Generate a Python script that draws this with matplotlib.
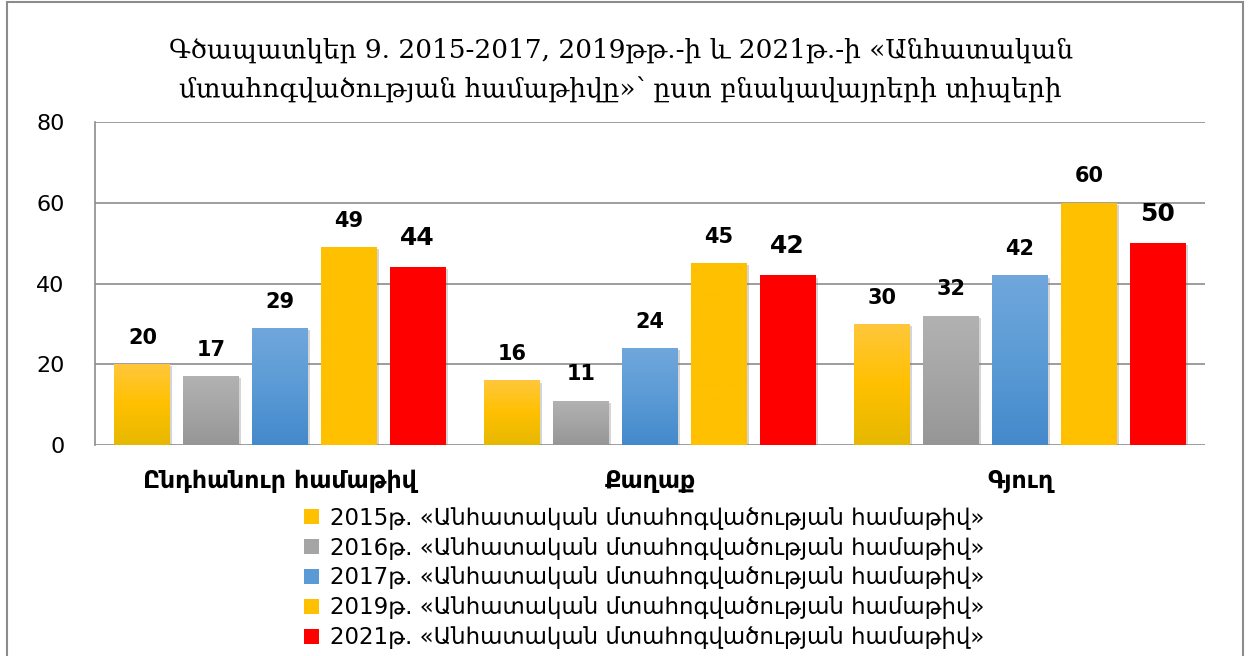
import matplotlib
matplotlib.use("Agg")
import matplotlib.pyplot as plt
import numpy as np
from matplotlib.colors import LinearSegmentedColormap
from matplotlib.patches import Rectangle, Patch
import matplotlib.patheffects as pe

plt.rcParams['font.family'] = ['DejaVu Sans']

# data
categories = ["Ընդհանուր համաթիվ", "Քաղաք", "Գյուղ"]
series_names = [
    "2015թ. «Անհատական մտահոգվածության համաթիվ»",
    "2016թ. «Անհատական մտահոգվածության համաթիվ»",
    "2017թ. «Անհատական մտահոգվածության համաթիվ»",
    "2019թ. «Անհատական մտահոգվածության համաթիվ»",
    "2021թ. «Անհատական մտահոգվածության համաթիվ»",
]
v2015 = [20, 16, 30]
v2016 = [17, 11, 32]
v2017 = [29, 24, 42]
v2019 = [49, 45, 60]
v2021 = [44, 42, 50]
values = [v2015, v2016, v2017, v2019, v2021]

# (top, middle, bottom) colours for the gradient fills
grads = [
    ("#FFC73C", "#FFC000", "#E6B800"),
    ("#B2B2B2", "#A5A5A5", "#969696"),
    ("#70A7DC", "#5B9BD5", "#4489CC"),
    ("#FFC000", "#FFC000", "#FFC000"),
    ("#FF0000", "#FF0000", "#FF0000"),
]
legend_colors = ["#FFC000", "#A5A5A5", "#5B9BD5", "#FFC000", "#FF0000"]

fig = plt.figure(figsize=(12.49, 6.56), dpi=100)
ax = fig.add_axes([0.0761, 0.3216, 0.8887, 0.4924])

x = np.arange(len(categories))
pitch = 0.186
width = 0.151
grad_img = np.linspace(0, 1, 256).reshape(-1, 1)

for i, (vals, g) in enumerate(zip(values, grads)):
    cmap = LinearSegmentedColormap.from_list(f"g{i}", [g[2], g[1], g[0]])
    offs = (i - 2) * pitch
    bars = ax.bar(x + offs, vals, width, color=g[1], zorder=3,
                  path_effects=[pe.SimplePatchShadow(offset=(1.5, -1.5), shadow_rgbFace="#777777", alpha=0.3),
                                pe.Normal()])
    for b, v in zip(bars, vals):
        bx, bw = b.get_x(), b.get_width()
        im = ax.imshow(grad_img, cmap=cmap, aspect="auto", origin="lower",
                       extent=[bx, bx + bw, 0, v], zorder=4)
        im.set_clip_path(b)
        big = i == 4
        ax.annotate(f"{v}", (bx + bw / 2, v), xytext=(0, 21 if big else 19),
                    textcoords="offset points", ha="center", va="center",
                    fontsize=18 if big else 15, fontweight="bold", zorder=5)

ax.set_xlim(-0.5, 2.5)
ax.set_ylim(0, 80)
ax.set_yticks([0, 20, 40, 60, 80])
ax.tick_params(axis="y", length=0, labelsize=16, pad=22)
ax.set_xticks(x)
ax.set_xticklabels(categories, fontsize=17, fontweight="bold")
ax.tick_params(axis="x", length=0, pad=17)
ax.grid(axis="y", color="#8c8c8c", linewidth=1.2, zorder=0)
for s in ["top", "right", "bottom"]:
    ax.spines[s].set_visible(False)
ax.spines["left"].set_color("#8c8c8c")
ax.spines["left"].set_linewidth(1.2)

fig.text(0.497, 0.893,
         "Գծապատկեր 9. 2015-2017, 2019թթ.-ի և 2021թ.-ի «Անհատական\n"
         "մտահոգվածության համաթիվը»՝ ըստ բնակավայրերի տիպերի",
         ha="center", va="center", fontsize=19, linespacing=1.65,
         family=["DejaVu Serif", "DejaVu Sans"])

handles = [Patch(facecolor=c) for c in legend_colors]
fig.legend(handles, series_names, loc="upper center", bbox_to_anchor=(0.516, 0.245),
           frameon=False, fontsize=16.5, labelspacing=0.3, handlelength=0.65,
           handleheight=0.65, handletextpad=0.5, borderpad=0)

fig.add_artist(Rectangle((7 / 1249, -0.02), 1236 / 1249, 1.017, transform=fig.transFigure,
                         fill=False, edgecolor="#8c8c8c", linewidth=1.5))

fig.savefig("out.png", dpi=100)
